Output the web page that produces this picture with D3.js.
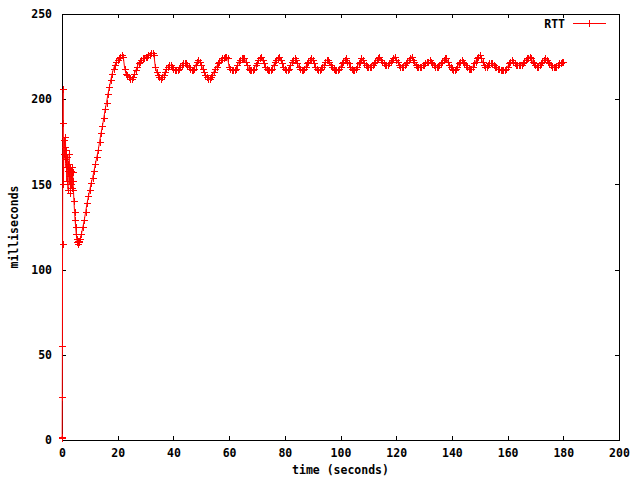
<!DOCTYPE html>
<html><head><meta charset="utf-8">
<script src="https://cdn.jsdelivr.net/npm/d3@7"></script>
<style>
body{margin:0;background:#fff}
text{font-family:"DejaVu Sans Mono","Liberation Mono",monospace;font-weight:bold;font-size:11.5px;fill:#000}
</style>
</head><body><svg id="c" width="640" height="480"></svg>
<script>
// ---- data ----
const xTickValues = [0,20,40,60,80,100,120,140,160,180,200];
const yTickValues = [0,50,100,150,200,250];
const seriesName = "RTT";
// start of the connection (irregular sampling)
const earlyT = [0,0.03,0.06,0.1,0.15,0.2,0.3,0.4,0.5,0.65,0.8,0.95,1.1,1.25,1.4,1.55,1.7,1.85,2.0,2.15,2.3,2.45,2.6,2.75,
  2.9,3.05,3.2,3.35,3.5,3.65,3.8,3.95,4.1,4.3,4.5,4.7,4.9,5.1,5.3,5.5,5.7,5.85,5.95];
const earlyV = [1,2,1,25,55,115,186,206,150,168,176,172,165,178,160,170,152,166,158,147,162,155,168,150,
  160,145,158,150,160,148,157,152,147,140,134,129,125,121,118,116,117,115,116];
// regular samples every 0.5 s from t = 6 s to 180 s
const mainStart = 6, mainStep = 0.5;
const mainV = [
117,118,121,125,129,134,139,143,147,151,
154,158,162,166,170,175,180,184,189,194,
198,203,207,211,215,218,220,222,223,224,
225,226,225,218,215,214,213,212,212,213,
215,217,219,221,222,223,224,224,225,225,
226,226,227,227,226,219,216,214,213,212,
213,214,216,218,219,220,220,219,218,217,
217,217,218,219,220,221,221,221,220,219,
218,217,217,218,220,222,223,222,220,218,
216,214,213,212,212,213,214,216,218,219,
221,222,223,224,224,225,225,224,219,218,
217,217,217,218,220,222,223,224,224,224,
222,220,218,217,217,217,218,220,221,223,
224,225,223,221,219,218,217,217,217,218,
220,222,223,224,225,223,221,219,218,217,
217,218,220,222,223,224,223,221,219,218,
217,217,218,219,221,222,223,224,223,221,
219,218,217,217,218,219,220,222,223,223,
222,220,219,218,217,217,217,218,219,221,
222,223,224,222,221,219,218,217,217,218,
219,221,222,224,223,221,220,219,219,219,
219,220,221,222,223,224,225,223,222,221,
220,220,220,221,222,223,224,225,223,222,
220,219,219,219,220,221,222,223,224,225,
223,222,220,219,219,219,219,220,220,221,
222,222,223,222,221,220,219,219,219,220,
221,222,223,224,224,222,220,219,218,217,
217,218,219,221,222,223,222,221,220,219,
218,218,218,219,221,222,224,225,226,224,
222,220,219,219,220,221,221,221,220,219,
219,218,218,217,217,217,217,218,219,221,
222,223,222,221,220,220,220,220,220,221,
222,223,224,224,225,224,222,221,220,219,
219,220,221,222,223,224,223,222,221,220,
219,219,219,219,220,221,221,222,222
];

const data = earlyT.map((t,i)=>({t, v: earlyV[i]}))
  .concat(mainV.map((v,i)=>({t: mainStart + i*mainStep, v})));

// ---- chart ----
const svg = d3.select("#c");
svg.append("rect").attr("width",640).attr("height",480).attr("fill","#fff");
const L=62, R=619, T=14, B=440;
const x = d3.scaleLinear().domain([0,200]).range([L,R]);
const y = d3.scaleLinear().domain([0,250]).range([B,T]);
const red = "#ff0000";

// axes (ticks inward, mirrored)
const gB = svg.append("g").attr("transform",`translate(0,${B})`)
  .call(d3.axisBottom(x).tickValues(xTickValues).tickSize(-4).tickPadding(9).tickFormat(d3.format("d")));
const gT = svg.append("g").attr("transform",`translate(0,${T})`)
  .call(d3.axisTop(x).tickValues(xTickValues.slice(1,-1)).tickSize(-4).tickFormat(""));
const gL = svg.append("g").attr("transform",`translate(${L},0)`)
  .call(d3.axisLeft(y).tickValues(yTickValues).tickSize(-4).tickPadding(10).tickFormat(d3.format("d")));
const gR = svg.append("g").attr("transform",`translate(${R},0)`)
  .call(d3.axisRight(y).tickValues(yTickValues.slice(1,-1)).tickSize(-4).tickFormat(""));
[gB,gT,gL,gR].forEach(g=>{
  g.select(".domain").remove();
  g.selectAll("line").attr("stroke","#000").attr("shape-rendering","crispEdges");
  g.selectAll("text").attr("font-family",null).attr("font-size",null).style("font-family",'"DejaVu Sans Mono",monospace').style("font-weight","bold").style("font-size","11.5px");
});
gB.selectAll("line").filter(d=>d===0||d===200).remove();
gL.selectAll("line").filter(d=>d===0||d===250).remove();

// frame
svg.append("rect").attr("x",L+0.5).attr("y",T+0.5).attr("width",R-L).attr("height",B-T)
  .attr("fill","none").attr("stroke","#000").attr("stroke-width",1);

// titles
svg.append("text").attr("x",(L+R)/2).attr("y",474).attr("text-anchor","middle").text("time (seconds)");
svg.append("text").attr("transform",`translate(18,${(T+B)/2}) rotate(-90)`).attr("text-anchor","middle").text("milliseconds");

// line
const line = d3.line().x(d=>x(d.t)).y(d=>y(d.v));
svg.append("path").datum(data).attr("d",line).attr("fill","none").attr("stroke",red).attr("stroke-width",1);
// point markers "+" (snapped to the pixel grid like a bitmap terminal)
const plus = "M-3,0H4M0.5,-3.5V3.5";
svg.append("g").attr("shape-rendering","crispEdges").selectAll("path").data(data).join("path")
  .attr("transform",d=>`translate(${Math.round(x(d.t))},${Math.round(y(d.v))+0.5})`)
  .attr("d",plus).attr("stroke",red).attr("stroke-width",1).attr("fill","none");

// legend
svg.append("text").attr("x",565).attr("y",27.5).attr("text-anchor","end").text(seriesName);
svg.append("line").attr("x1",573).attr("x2",606).attr("y1",23.5).attr("y2",23.5).attr("stroke",red).attr("shape-rendering","crispEdges");
svg.append("path").attr("transform","translate(589,23.5)").attr("d","M0.5,-3.5V3.5").attr("stroke",red).attr("shape-rendering","crispEdges");
</script>
</body></html>
